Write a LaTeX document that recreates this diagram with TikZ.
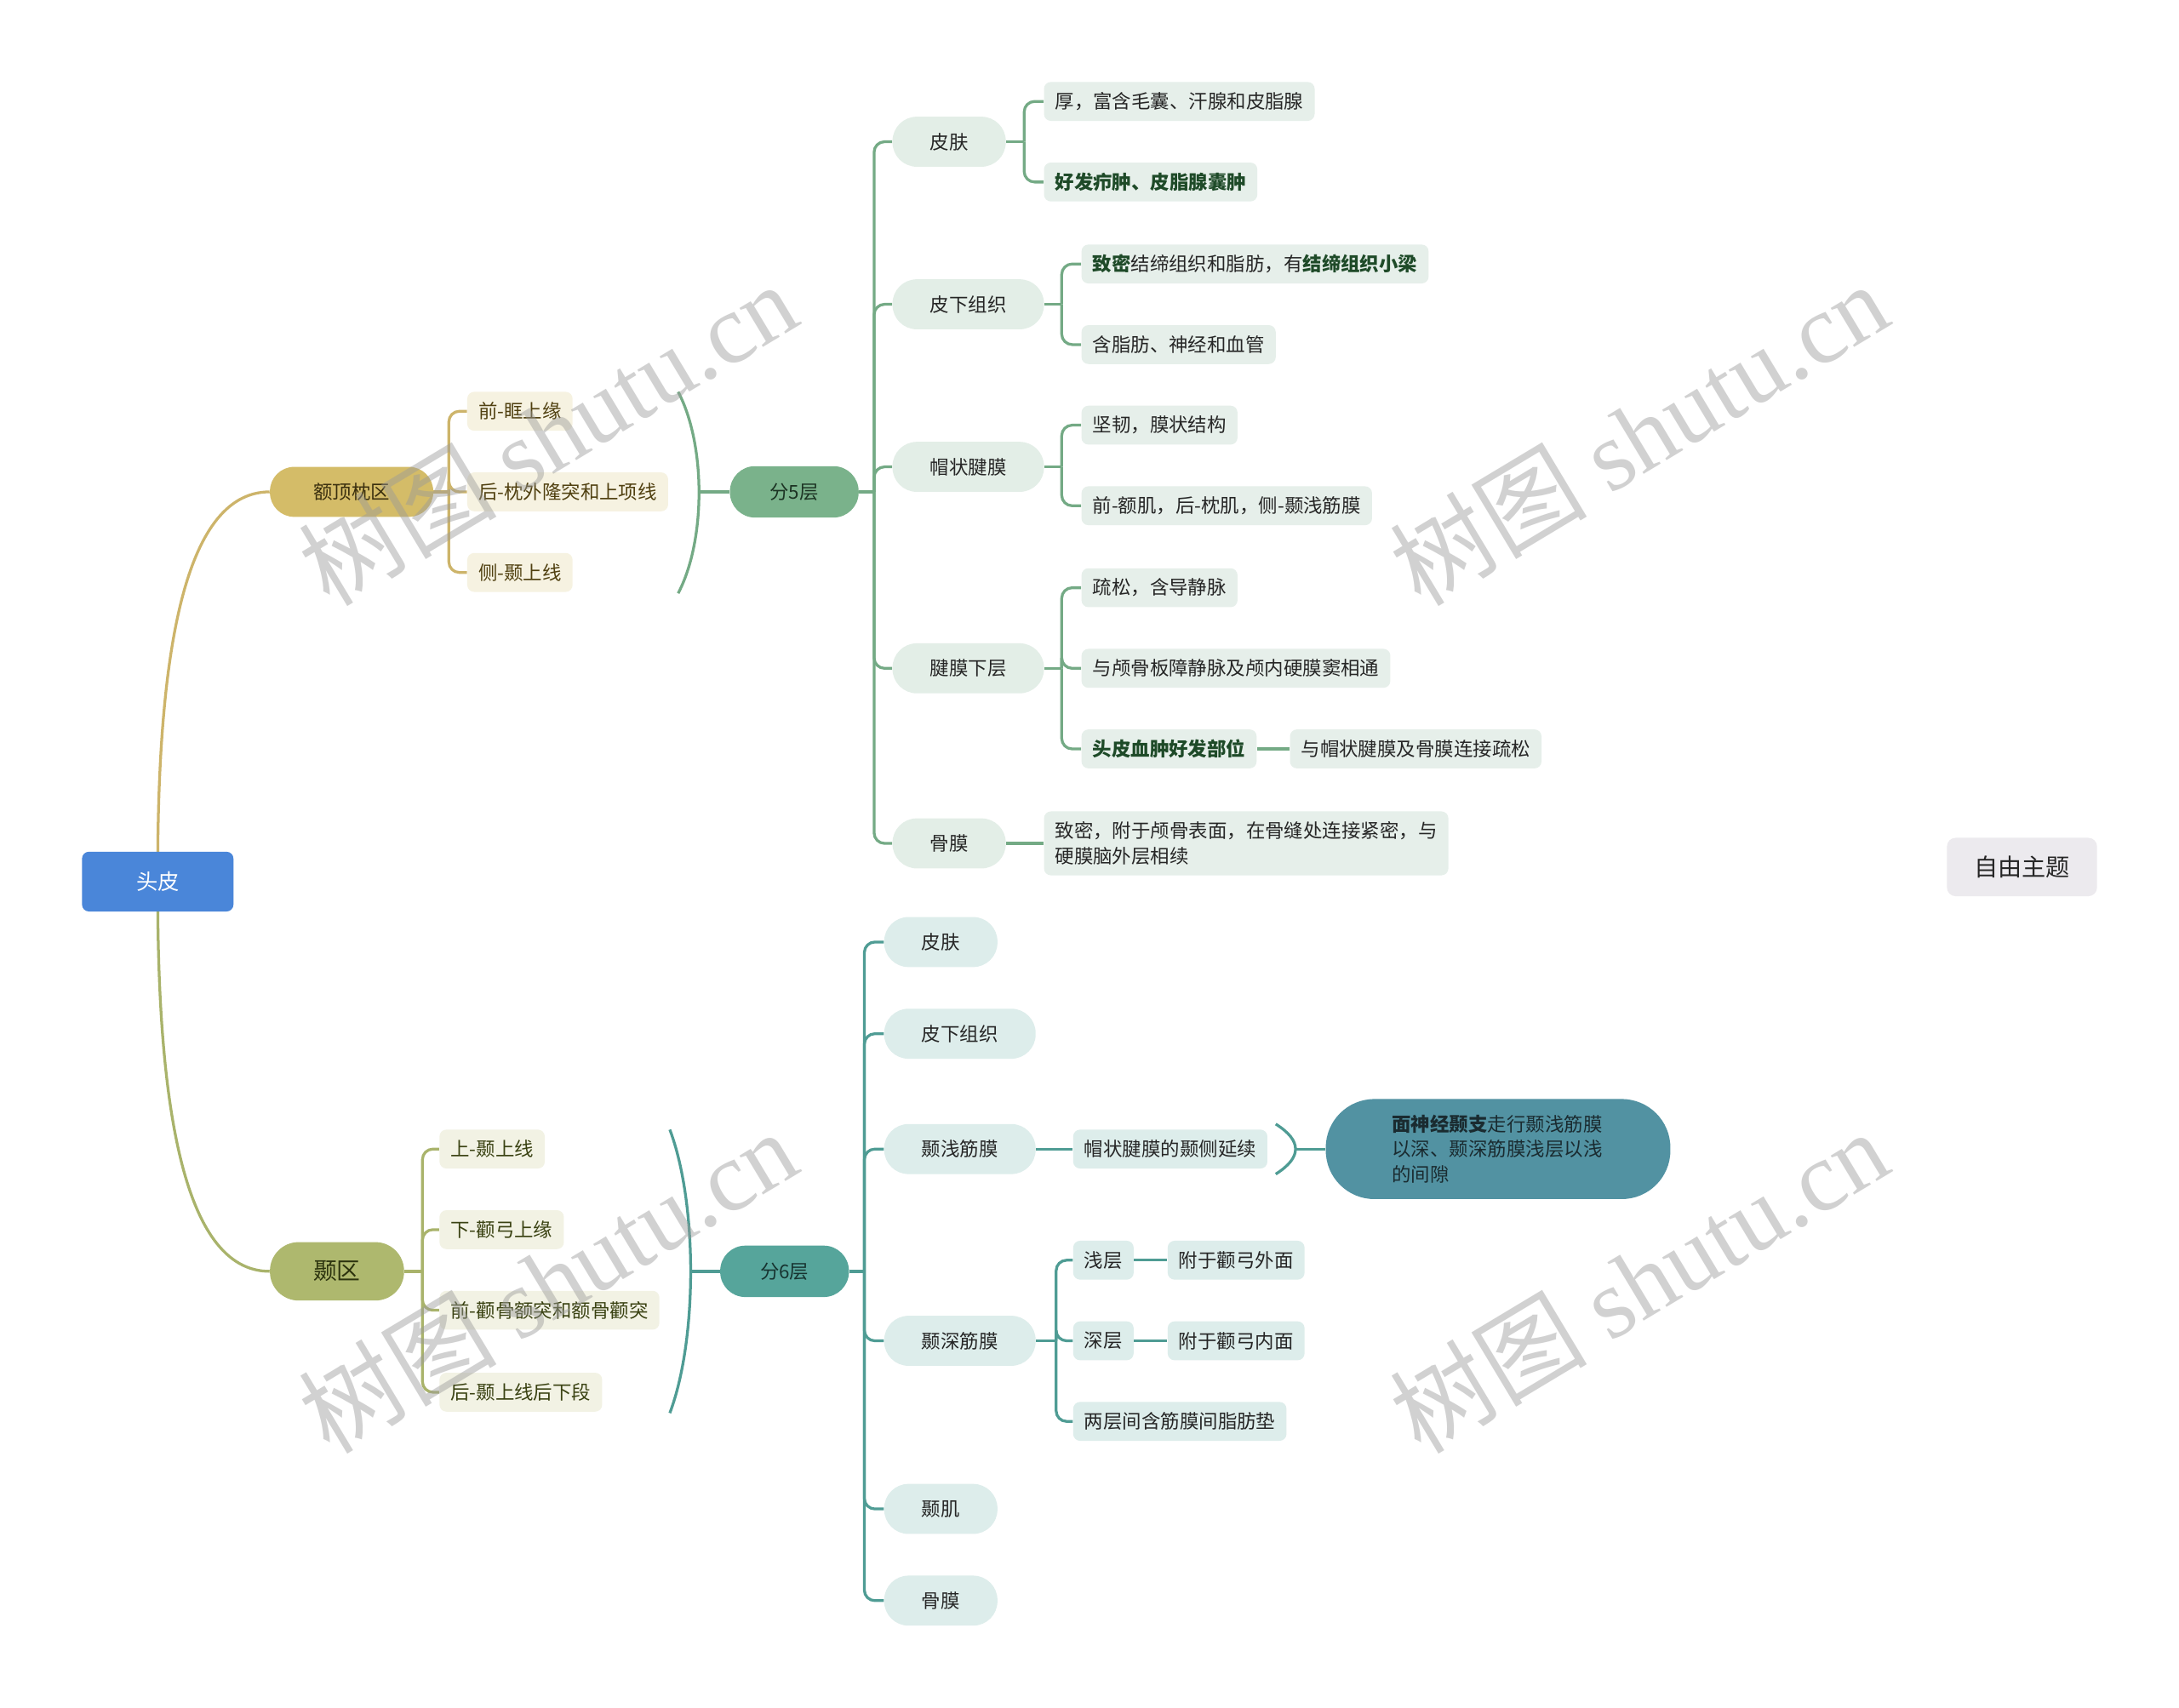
\documentclass[tikz,border=0pt]{standalone}
\usepackage{fontspec}
\setmainfont{Noto Sans CJK SC}
\newfontfamily\wmlat{Liberation Serif}
\usetikzlibrary{calc}
\pgfdeclarelayer{back}
\pgfdeclarelayer{bg}
\pgfdeclarelayer{fg}
\pgfsetlayers{back,bg,main,fg}
\definecolor{rootblue}{HTML}{4A86D9}
\definecolor{goldfill}{HTML}{D4BC68}
\definecolor{goldline}{HTML}{CDB46A}
\definecolor{goldtxt}{HTML}{3A2F0E}
\definecolor{leafAfill}{HTML}{F6F2E1}
\definecolor{leafAtxt}{HTML}{504010}
\definecolor{olivefill}{HTML}{AEB86E}
\definecolor{oliveline}{HTML}{A9B36B}
\definecolor{olivetxt}{HTML}{2C330E}
\definecolor{leafBfill}{HTML}{F2F2E4}
\definecolor{leafBtxt}{HTML}{3A4212}
\definecolor{grfill}{HTML}{7AB28B}
\definecolor{grline}{HTML}{74AA85}
\definecolor{grtxt}{HTML}{1C3323}
\definecolor{layAfill}{HTML}{E3EEE7}
\definecolor{leafCfill}{HTML}{E6EFEA}
\definecolor{boldgreen}{HTML}{1E4A28}
\definecolor{tealfill}{HTML}{56A59B}
\definecolor{tealline}{HTML}{4F9C94}
\definecolor{tealtxt}{HTML}{173330}
\definecolor{layBfill}{HTML}{DDEDEB}
\definecolor{facefill}{HTML}{5292A2}
\definecolor{facetxt}{HTML}{1A2B30}
\definecolor{freefill}{HTML}{ECEAEE}
\definecolor{darktxt}{HTML}{262626}
\definecolor{wmgray}{HTML}{9A9A9A}
\newcommand{\myfs}{\fontsize{11pt}{14.4pt}\selectfont}
\begin{document}
\begin{tikzpicture}[x=0.8pt,y=-0.8pt,
  conn/.style={line width=1.6pt, rounded corners=6pt},
  rootbox/.style={fill=rootblue, text=white, rounded corners=4pt, minimum width=87.2pt, minimum height=34.4pt, inner sep=0pt, font=\fontsize{12.4pt}{14pt}\selectfont},
  pillA/.style={fill=goldfill, text=goldtxt, rounded corners=14pt, minimum height=28.8pt, inner xsep=25pt, inner ysep=0pt, anchor=west, font=\myfs},
  pillB/.style={fill=olivefill, text=olivetxt, rounded corners=16.5pt, minimum height=33.6pt, inner xsep=25pt, inner ysep=0pt, anchor=west, font=\fontsize{13.6pt}{16pt}\selectfont},
  secbox/.style={rounded corners=14.5pt, minimum height=29.6pt, inner xsep=23pt, inner ysep=0pt, anchor=west, font=\myfs},
  layerbox/.style={rounded corners=14pt, minimum height=28.8pt, inner xsep=21.6pt, inner ysep=0pt, anchor=west, font=\myfs, text=darktxt},
  leafbox/.style={rounded corners=4pt, minimum height=22.4pt, inner xsep=6.4pt, inner ysep=0pt, anchor=west, font=\myfs},
  leafA/.style={leafbox, fill=leafAfill, text=leafAtxt},
  leafB/.style={leafbox, fill=leafBfill, text=leafBtxt},
  leafC/.style={leafbox, fill=leafCfill, text=darktxt},
  leafD/.style={leafbox, fill=layBfill, text=darktxt},
  wmark/.style={rotate=31, text=wmgray, opacity=0.45, font=\fontsize{57pt}{57pt}\selectfont, inner sep=0pt}
]
\begin{pgfonlayer}{back}
\fill[white] (0,0) rectangle (1568,1229);
\end{pgfonlayer}
\useasboundingbox (0,0) rectangle (1568,1229);

% root
\node[rootbox] (root) at (113.5,634.5) {头皮};
\node[fill=freefill, text=darktxt, rounded corners=5pt, minimum width=86.4pt, minimum height=33.6pt, inner sep=0pt, font=\fontsize{13.8pt}{16pt}\selectfont] (free) at (1455,624) {自由主题};

% upper main branch
\node[pillA] (A) at (194,354) {额顶枕区};
\node[leafA] (A1) at (336,296) {前-眶上缘};
\node[leafA] (A2) at (336,354) {后-枕外隆突和上项线};
\node[leafA] (A3) at (336,412) {侧-颞上线};
\node[secbox, fill=grfill, text=grtxt] (S5) at (525,354) {分5层};

\node[layerbox, fill=layAfill] (L1) at (642,102) {皮肤};
\node[layerbox, fill=layAfill] (L2) at (642,219) {皮下组织};
\node[layerbox, fill=layAfill] (L3) at (642,336) {帽状腱膜};
\node[layerbox, fill=layAfill] (L4) at (642,481) {腱膜下层};
\node[layerbox, fill=layAfill] (L5) at (642,607) {骨膜};

\node[leafC] (L1a) at (751,73) {厚，富含毛囊、汗腺和皮脂腺};
\node[leafC, text=boldgreen, font=\myfs\bfseries] (L1b) at (751,131) {好发疖肿、皮脂腺囊肿};
\node[leafC] (L2a) at (778,190) {\textcolor{boldgreen}{\bfseries 致密}结缔组织和脂肪，有\textcolor{boldgreen}{\bfseries 结缔组织小梁}};
\node[leafC] (L2b) at (778,248) {含脂肪、神经和血管};
\node[leafC] (L3a) at (778,306) {坚韧，膜状结构};
\node[leafC] (L3b) at (778,364) {前-额肌，后-枕肌，侧-颞浅筋膜};
\node[leafC] (L4a) at (778,423) {疏松，含导静脉};
\node[leafC] (L4b) at (778,481) {与颅骨板障静脉及颅内硬膜窦相通};
\node[leafC, text=boldgreen, font=\myfs\bfseries] (L4c) at (778,539) {头皮血肿好发部位};
\node[leafC] (L4c1) at (928,539) {与帽状腱膜及骨膜连接疏松};
\node[leafC, minimum height=36.8pt, align=left] (L5a) at (751,607) {致密，附于颅骨表面，在骨缝处连接紧密，与\\硬膜脑外层相续};

% lower main branch
\node[pillB] (B) at (194,915) {颞区};
\node[leafB] (B1) at (316,827) {上-颞上线};
\node[leafB] (B2) at (316,885) {下-颧弓上缘};
\node[leafB] (B3) at (316,943) {前-颧骨额突和额骨颧突};
\node[leafB] (B4) at (316,1002) {后-颞上线后下段};
\node[secbox, fill=tealfill, text=tealtxt] (S6) at (518,915) {分6层};

\node[layerbox, fill=layBfill] (M1) at (636,678) {皮肤};
\node[layerbox, fill=layBfill] (M2) at (636,744) {皮下组织};
\node[layerbox, fill=layBfill] (M3) at (636,827) {颞浅筋膜};
\node[layerbox, fill=layBfill] (M4) at (636,965) {颞深筋膜};
\node[layerbox, fill=layBfill] (M5) at (636,1086) {颞肌};
\node[layerbox, fill=layBfill] (M6) at (636,1152) {骨膜};

\node[leafD] (M3a) at (772,827) {帽状腱膜的颞侧延续};
\node[fill=facefill, text=facetxt, rounded corners=28pt, minimum width=198.4pt, minimum height=57.6pt, inner sep=0pt, text width=122pt, align=left, font=\myfs, anchor=center] (M3b) at (1078,827) {\textbf{面神经颞支}走行颞浅筋膜\\以深、颞深筋膜浅层以浅\\的间隙};
\node[leafD] (M4a) at (772,907) {浅层};
\node[leafD] (M4a1) at (840,907) {附于颧弓外面};
\node[leafD] (M4b) at (772,965) {深层};
\node[leafD] (M4b1) at (840,965) {附于颧弓内面};
\node[leafD] (M4c) at (772,1023) {两层间含筋膜间脂肪垫};

% junction coordinates
\coordinate (jA) at (323,354);
\coordinate (jS5) at (629,354);
\coordinate (jL1) at (737,102);
\coordinate (jL2) at (764,219);
\coordinate (jL3) at (764,336);
\coordinate (jL4) at (764,481);
\coordinate (jB) at (304,915);
\coordinate (jS6) at (622,915);
\coordinate (jM4) at (760,965);
\coordinate (br1t) at (488,282);
\coordinate (br1b) at (488,427);
\coordinate (br1m) at (503,354);
\coordinate (br2t) at (482,813);
\coordinate (br2b) at (482,1017);
\coordinate (br2m) at (497,915);
\coordinate (br3t) at (918,809);
\coordinate (br3b) at (918,845);
\coordinate (br3m) at (932,827);

\begin{pgfonlayer}{bg}
% root curves
\draw[line width=1.6pt, goldline] (root.center) .. controls (113,480) and (130,354) .. (A.west);
\draw[line width=1.6pt, oliveline] (root.center) .. controls (113,788) and (130,915) .. (B.west);
% gold
\draw[conn, goldline] (A.east) -- (jA);
\foreach \c in {A1,A2,A3} \draw[conn, goldline] (jA) |- (\c.west);
% bracket 1
\draw[line width=1.6pt, grline] (br1t) .. controls (508,320) and (508,389) .. (br1b);
\draw[line width=1.6pt, grline] (br1m) -- (S5.west);
% green
\draw[conn, grline] (S5.east) -- (jS5);
\foreach \c in {L1,L2,L3,L4,L5} \draw[conn, grline] (jS5) |- (\c.west);
\draw[conn, grline] (L1.east) -- (jL1);
\foreach \c in {L1a,L1b} \draw[conn, grline] (jL1) |- (\c.west);
\draw[conn, grline] (L2.east) -- (jL2);
\foreach \c in {L2a,L2b} \draw[conn, grline] (jL2) |- (\c.west);
\draw[conn, grline] (L3.east) -- (jL3);
\foreach \c in {L3a,L3b} \draw[conn, grline] (jL3) |- (\c.west);
\draw[conn, grline] (L4.east) -- (jL4);
\foreach \c in {L4a,L4b,L4c} \draw[conn, grline] (jL4) |- (\c.west);
\draw[conn, grline] (L4c.east) -- (L4c1.west);
\draw[conn, grline] (L5.east) -- (L5a.west);
% olive
\draw[conn, oliveline] (B.east) -- (jB);
\foreach \c in {B1,B2,B3,B4} \draw[conn, oliveline] (jB) |- (\c.west);
% bracket 2
\draw[line width=1.6pt, tealline] (br2t) .. controls (502,866) and (502,964) .. (br2b);
\draw[line width=1.6pt, tealline] (br2m) -- (S6.west);
% teal
\draw[conn, tealline] (S6.east) -- (jS6);
\foreach \c in {M1,M2,M3,M4,M5,M6} \draw[conn, tealline] (jS6) |- (\c.west);
\draw[conn, tealline] (M3.east) -- (M3a.west);
\draw[line width=1.6pt, tealline] (br3t) .. controls (937,821) and (937,833) .. (br3b);
\draw[line width=1.6pt, tealline] (br3m) -- (M3b.west);
\draw[conn, tealline] (M4.east) -- (jM4);
\foreach \c in {M4a,M4b,M4c} \draw[conn, tealline] (jM4) |- (\c.west);
\draw[conn, tealline] (M4a.east) -- (M4a1.west);
\draw[conn, tealline] (M4b.east) -- (M4b1.west);
\end{pgfonlayer}

\begin{pgfonlayer}{fg}
\node[wmark] (w1) at (394,312) {树图 {\wmlat shutu.cn}};
\node[wmark] (w2) at (1179,312) {树图 {\wmlat shutu.cn}};
\node[wmark] (w3) at (394,922) {树图 {\wmlat shutu.cn}};
\node[wmark] (w4) at (1179,922) {树图 {\wmlat shutu.cn}};
\end{pgfonlayer}
\end{tikzpicture}
\end{document}
